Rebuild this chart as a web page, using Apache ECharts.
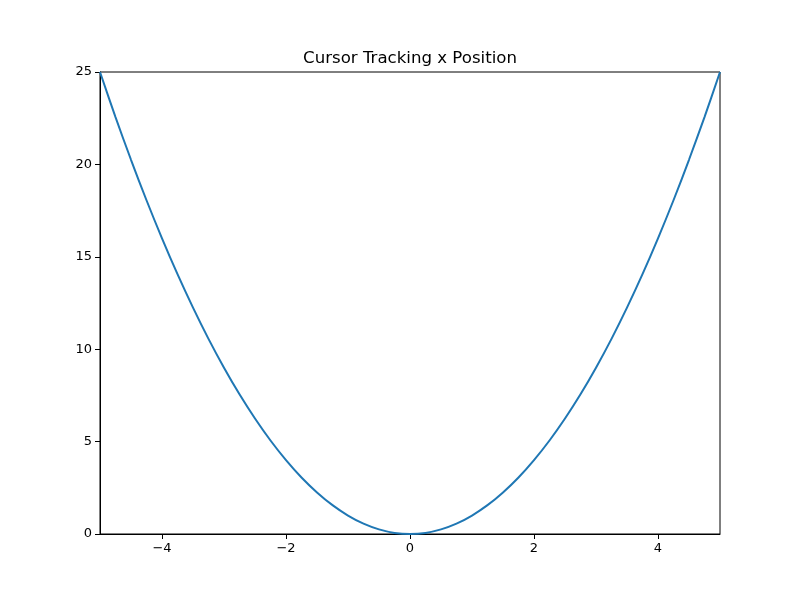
<!DOCTYPE html>
<html>
<head>
<meta charset="utf-8">
<script src="https://cdn.jsdelivr.net/npm/echarts@6/dist/echarts.min.js"></script>
<style>html,body{margin:0;padding:0;background:#fff}#c{width:800px;height:600px}</style>
</head>
<body>
<div id="c"></div>
<script>
var title = 'Cursor Tracking x Position';
var xValues = [-5, -4.75, -4.5, -4.25, -4, -3.75, -3.5, -3.25, -3, -2.75, -2.5, -2.25, -2, -1.75, -1.5, -1.25, -1, -0.75, -0.5, -0.25, 0,
               0.25, 0.5, 0.75, 1, 1.25, 1.5, 1.75, 2, 2.25, 2.5, 2.75, 3, 3.25, 3.5, 3.75, 4, 4.25, 4.5, 4.75, 5];
var yValues = [25, 22.56, 20.25, 18.06, 16, 14.06, 12.25, 10.56, 9, 7.56, 6.25, 5.06, 4, 3.06, 2.25, 1.56, 1, 0.56, 0.25, 0.06, 0,
               0.06, 0.25, 0.56, 1, 1.56, 2.25, 3.06, 4, 5.06, 6.25, 7.56, 9, 10.56, 12.25, 14.06, 16, 18.06, 20.25, 22.56, 25];
var xTicks = [-4, -2, 0, 2, 4];
var yTicks = [0, 5, 10, 15, 20, 25];

var points = xValues.map(function (x, i) { return [x, yValues[i]]; });
var font = 'DejaVu Sans';
function fmt(v) { return String(v).replace('-', '\u2212'); }

var chart = echarts.init(document.getElementById('c'), null, { renderer: 'canvas' });
chart.setOption({
  animation: false,
  backgroundColor: '#ffffff',
  title: {
    text: title, left: 410, top: 50, textAlign: 'center', padding: 0,
    textStyle: { fontFamily: font, fontSize: 16.6, fontWeight: 'normal', color: '#000' }
  },
  grid: { left: 100, right: 80, top: 72, bottom: 66, show: true, borderColor: '#000', borderWidth: 1, backgroundColor: 'transparent' },
  xAxis: {
    type: 'value', min: -5, max: 5, interval: 1,
    axisLine: { show: true, onZero: false, lineStyle: { color: '#000', width: 1 } },
    axisTick: { show: true, length: 5, lineStyle: { color: '#000' }, customValues: xTicks },
    axisLabel: { customValues: xTicks, formatter: fmt, fontFamily: font, fontSize: 13, color: '#000', margin: 8 },
    splitLine: { show: false }
  },
  yAxis: {
    type: 'value', min: 0, max: 25, interval: 5,
    axisLine: { show: true, onZero: false, lineStyle: { color: '#000', width: 1 } },
    axisTick: { show: true, length: 5, lineStyle: { color: '#000' } },
    axisLabel: { formatter: fmt, fontFamily: font, fontSize: 13, color: '#000', margin: 8 },
    splitLine: { show: false }
  },
  series: [{
    type: 'line', data: points, smooth: 0.3, symbol: 'none',
    lineStyle: { color: '#1f77b4', width: 2 }, clip: true
  }]
});
</script>
</body>
</html>
